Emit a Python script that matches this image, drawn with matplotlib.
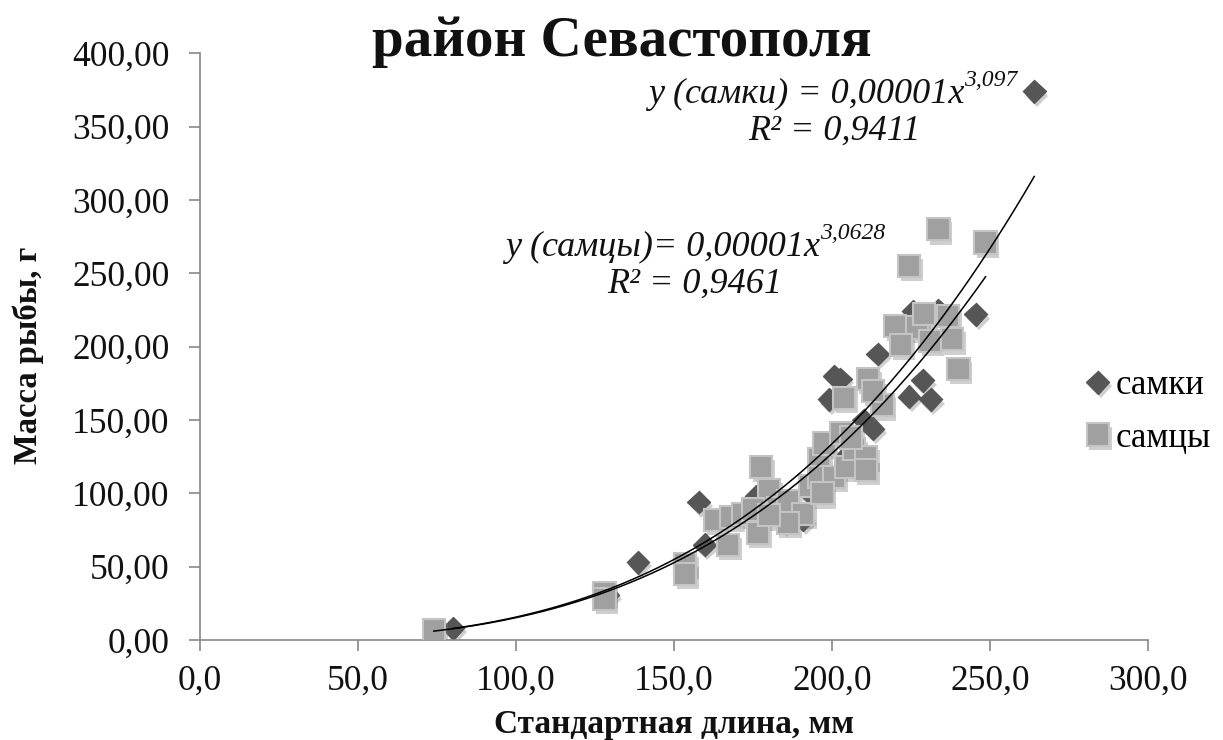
import matplotlib
matplotlib.use("Agg")
import matplotlib.pyplot as plt
import matplotlib.patheffects as pe
import numpy as np

# --- data ---
female_x = [80, 129, 138.6, 157.8, 159.7, 176, 185, 190.8, 193, 205, 199, 202.6, 200.7,
            210, 213, 214.4, 225.6, 228.7, 231.2, 224.4, 233.7, 245.5, 264]
female_y = [8, 31, 53, 94, 65, 98, 81, 82, 100, 127, 164, 178, 180,
            150, 144, 195, 224, 177, 164, 166, 225, 222, 374]

male_x = [74, 128, 128, 153.5, 153.5, 163, 168, 167, 172, 177.5, 176.5, 180, 175, 183, 186,
          190.8, 193, 195.8, 197.6, 196, 200.7, 197, 203, 204.5, 207, 210.7, 210.7, 211.3,
          203.9, 216, 213, 224.4, 233.7, 248.6, 220, 226.9, 236.8, 238, 240, 221.9, 231,
          229, 206, 186, 180]
male_y = [7, 32, 28, 52, 45, 82, 84, 65, 86, 118, 73, 102, 89, 90, 95,
          86, 105, 123, 134, 111, 111, 100, 141, 118, 130, 125, 116, 178,
          165, 160, 170, 255, 280, 271, 214, 213, 221, 205, 185, 201, 204,
          222, 138, 80, 85]

# power trend coefficients (y = a * x^b)
female_a, female_b = 1.0e-5, 3.097
male_a, male_b = 1.14e-5, 3.0628

x_ticks = [0, 50, 100, 150, 200, 250, 300]
y_ticks = [0, 50, 100, 150, 200, 250, 300, 350, 400]

plt.rcParams["font.family"] = ["Liberation Serif", "DejaVu Serif"]

W, H = 1223, 740
fig = plt.figure(figsize=(W / 100, H / 100), dpi=100, facecolor="white")
ax = fig.add_axes([200 / W, 1 - 640 / H, 948 / W, (640 - 53.3) / H])

shadow = [pe.SimplePatchShadow(offset=(2, -3), shadow_rgbFace="#777777", alpha=0.35), pe.Normal()]

ax.plot(female_x, female_y, linestyle="none", marker="D", markersize=11.5,
        markerfacecolor="#565656", markeredgecolor="#565656", path_effects=shadow,
        label="самки", zorder=2)
ax.plot(male_x, male_y, linestyle="none", marker="s", markersize=16,
        markerfacecolor="#a0a0a0", markeredgecolor="#c4c4c4", markeredgewidth=1.5,
        path_effects=shadow, label="самцы", zorder=3)

fx = np.linspace(min(female_x), max(female_x), 200)
mx = np.linspace(min(male_x), max(male_x), 200)
ax.plot(fx, female_a * fx ** female_b, color="black", linewidth=1.1, zorder=4)
ax.plot(mx, male_a * mx ** male_b, color="black", linewidth=1.1, zorder=4)

ax.set_xlim(0, 300)
ax.set_ylim(0, 400)
ax.set_xticks(x_ticks)
ax.set_yticks(y_ticks)
ax.set_xticklabels([f"{v:.1f}".replace(".", ",") for v in x_ticks])
ax.set_yticklabels([f"{v:.2f}".replace(".", ",") for v in y_ticks])
for side in ("top", "right"):
    ax.spines[side].set_visible(False)
for side in ("left", "bottom"):
    ax.spines[side].set_color("#878787")
    ax.spines[side].set_linewidth(1.2)
ax.tick_params(axis="both", colors="#878787", labelcolor="#111111", labelsize=25.5,
               length=8, width=1.2)
ax.tick_params(axis="y", pad=14)
ax.tick_params(axis="x", pad=10)

fig.text(372 / W, 1 - 56 / H, "район Севастополя", ha="left", va="baseline",
         fontsize=41, fontweight="bold", color="#111111")
fig.text(674 / W, 1 - 733 / H, "Стандартная длина, мм", ha="center", va="baseline",
         fontsize=24, fontweight="bold", color="#111111")
fig.text(28 / W, 1 - 355 / H, "Масса рыбы, г", ha="center", va="center", rotation=90,
         fontsize=23.5, fontweight="bold", color="#111111")

eq_kw = dict(fontsize=26, fontstyle="italic", color="#111111", va="baseline")
sup_kw = dict(fontsize=17, fontstyle="italic", color="#111111", ha="left", va="bottom")
t1 = fig.text(648 / W, 1 - 103 / H, "y (самки) = 0,00001x", ha="left", **eq_kw)
ax.annotate("3,097", xy=(1, 0.6), xycoords=t1, **sup_kw)
fig.text(834 / W, 1 - 140 / H, "R² = 0,9411", ha="center", **eq_kw)

t2 = fig.text(505 / W, 1 - 256 / H, "y (самцы)= 0,00001x", ha="left", **eq_kw)
ax.annotate("3,0628", xy=(1, 0.6), xycoords=t2, **sup_kw)
fig.text(695 / W, 1 - 293 / H, "R² = 0,9461", ha="center", **eq_kw)

fig.legend(loc="center left", bbox_to_anchor=(1070 / W, 1 - 412 / H), frameon=False,
           fontsize=25, handlelength=0.8, handletextpad=0.1, labelspacing=0.55,
           borderaxespad=0)

fig.savefig("out.png", dpi=100, facecolor="white")
